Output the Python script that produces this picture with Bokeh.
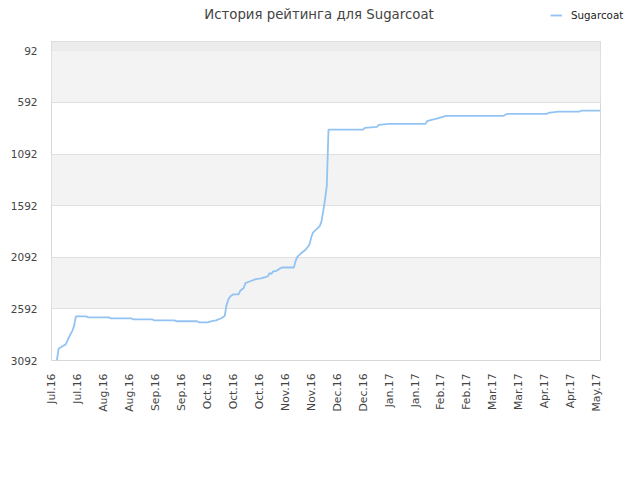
import numpy as np
from bokeh.plotting import figure
from bokeh.models import Range1d, FixedTicker, BoxAnnotation, Legend, LegendItem, ColumnDataSource, Label
from bokeh.embed import file_html
from bokeh.resources import INLINE

# ---- data ----
dates = [
    "2016-07-06", "2016-07-07", "2016-07-09", "2016-07-11", "2016-07-13", "2016-07-15",
    "2016-07-16", "2016-07-17", "2016-07-23", "2016-07-24", "2016-08-05", "2016-08-06",
    "2016-08-18", "2016-08-19", "2016-08-30", "2016-08-31", "2016-09-12", "2016-09-13",
    "2016-09-25", "2016-09-26", "2016-10-01", "2016-10-03", "2016-10-06", "2016-10-09",
    "2016-10-11", "2016-10-12", "2016-10-13", "2016-10-14", "2016-10-16", "2016-10-19",
    "2016-10-20", "2016-10-22", "2016-10-23", "2016-10-25", "2016-10-29", "2016-11-01",
    "2016-11-04", "2016-11-05", "2016-11-06", "2016-11-07", "2016-11-08", "2016-11-10",
    "2016-11-12", "2016-11-13", "2016-11-20", "2016-11-21", "2016-11-22", "2016-11-24",
    "2016-11-27", "2016-11-29", "2016-11-30", "2016-12-01", "2016-12-03", "2016-12-05",
    "2016-12-06", "2016-12-07", "2016-12-08", "2016-12-09", "2016-12-10", "2016-12-30",
    "2016-12-31", "2017-01-07", "2017-01-08", "2017-01-14", "2017-02-04", "2017-02-05",
    "2017-02-08", "2017-02-10", "2017-02-13", "2017-02-16", "2017-03-21", "2017-03-23",
    "2017-04-15", "2017-04-16", "2017-04-22", "2017-05-04", "2017-05-05", "2017-05-16",
]
ranks = [
    3092, 2979, 2957, 2938, 2867, 2802,
    2754, 2664, 2664, 2674, 2674, 2683,
    2683, 2693, 2693, 2703, 2703, 2712,
    2712, 2722, 2722, 2712, 2703, 2683,
    2661, 2561, 2506, 2475, 2451, 2451,
    2416, 2390, 2342, 2329, 2303, 2297,
    2281, 2274, 2245, 2255, 2229, 2223,
    2200, 2191, 2191, 2126, 2088, 2056,
    2014, 1968, 1901, 1853, 1821, 1788,
    1740, 1640, 1531, 1402, 855, 855,
    839, 829, 810, 800, 800, 774,
    758, 752, 736, 723, 723, 704,
    704, 694, 681, 681, 672, 672,
]
tick_dates = [
    "2016-07-03", "2016-07-18", "2016-08-02", "2016-08-17", "2016-09-01", "2016-09-16",
    "2016-10-01", "2016-10-16", "2016-10-31", "2016-11-15", "2016-11-30", "2016-12-15",
    "2016-12-30", "2017-01-14", "2017-01-29", "2017-02-13", "2017-02-28", "2017-03-15",
    "2017-03-30", "2017-04-14", "2017-04-29", "2017-05-14",
]
tick_labels = [
    "Jul.16", "Jul.16", "Aug.16", "Aug.16", "Sep.16", "Sep.16", "Oct.16", "Oct.16",
    "Oct.16", "Nov.16", "Nov.16", "Dec.16", "Dec.16", "Jan.17", "Jan.17", "Feb.17",
    "Feb.17", "Mar.17", "Mar.17", "Apr.17", "Apr.17", "May.17",
]
y_ticks = [92, 592, 1092, 1592, 2092, 2592, 3092]
series_name = "Sugarcoat"
title_text = "История рейтинга для Sugarcoat"

origin = np.datetime64("2016-07-01")
days = [int((np.datetime64(d) - origin).astype(int)) for d in dates]
tick_days = [int((np.datetime64(d) - origin).astype(int)) for d in tick_dates]

FONT = "DejaVu Sans"
LINE_COLOR = "#92c3f2"
LINE_W = 1.8
x_start = tick_days[0] - 0.1
x_end = x_start + 317.3

# ---- header strip: title + legend ----
HEAD_H = 41
head = figure(width=640, height=HEAD_H, output_backend="svg", toolbar_location=None,
              x_range=Range1d(0, 640), y_range=Range1d(HEAD_H, 0),
              x_axis_type=None, y_axis_type=None,
              min_border=0, min_border_left=0, min_border_right=0,
              min_border_top=0, min_border_bottom=0)
head.outline_line_color = None
head.grid.visible = False
head.background_fill_color = "white"
head.border_fill_color = "white"

head.add_layout(Label(x=318.5, y=13.5, x_units="screen", y_units="data", text=title_text,
                      text_font=FONT, text_font_size="13.3px", text_color="#444444",
                      text_align="center", text_baseline="middle"))

# same series (falls outside this strip's ranges, so only its legend swatch shows)
legend_src = ColumnDataSource(dict(x=days, y=ranks))
swatch = head.line("x", "y", source=legend_src, line_color=LINE_COLOR, line_width=LINE_W)
legend = Legend(items=[LegendItem(label=series_name, renderers=[swatch])],
                location=(550, 20), orientation="horizontal",
                padding=0, margin=0, spacing=0,
                glyph_width=12, glyph_height=12, label_height=12, label_standoff=9,
                label_text_font=FONT, label_text_font_size="10.3px",
                label_text_color="#222222",
                border_line_alpha=0, background_fill_alpha=0)
head.add_layout(legend, "center")

# ---- main chart ----
p = figure(width=640, height=480 - HEAD_H, output_backend="svg", toolbar_location=None,
           x_range=Range1d(x_start, x_end),
           y_range=Range1d(3092, 2),
           min_border_left=51, min_border_right=40, min_border_top=0, min_border_bottom=120)

p.background_fill_color = "white"
p.border_fill_color = "white"
p.outline_line_color = "#d8d8d8"
p.outline_line_width = 1

p.add_layout(BoxAnnotation(top=2, bottom=92, fill_color="#ececec", fill_alpha=1,
                           line_alpha=0, level="underlay"))

p.xgrid.visible = False
p.ygrid.ticker = FixedTicker(ticks=y_ticks)
p.ygrid.grid_line_color = "#e0e0e0"
p.ygrid.grid_line_width = 1
p.ygrid.band_fill_color = "#f3f3f3"
p.ygrid.band_fill_alpha = 1

p.yaxis.ticker = FixedTicker(ticks=y_ticks)
p.yaxis.axis_line_color = None
p.yaxis.major_tick_line_color = None
p.yaxis.minor_tick_line_color = None
p.yaxis.major_label_text_font = FONT
p.yaxis.major_label_text_font_size = "10.5px"
p.yaxis.major_label_text_color = "#444444"
p.yaxis.major_label_standoff = 8

p.xaxis.ticker = FixedTicker(ticks=tick_days)
p.xaxis.major_label_overrides = {d: l for d, l in zip(tick_days, tick_labels)}
p.xaxis.major_label_orientation = np.pi / 2
p.xaxis.axis_line_color = None
p.xaxis.major_tick_line_color = None
p.xaxis.minor_tick_line_color = None
p.xaxis.major_label_text_font = FONT
p.xaxis.major_label_text_font_size = "10.8px"
p.xaxis.major_label_text_color = "#444444"
p.xaxis.major_label_standoff = 7

src = ColumnDataSource(dict(x=days, y=ranks))
p.line("x", "y", source=src, line_color=LINE_COLOR, line_width=LINE_W)

open("out.html", "w").write(file_html([head, p], INLINE))
